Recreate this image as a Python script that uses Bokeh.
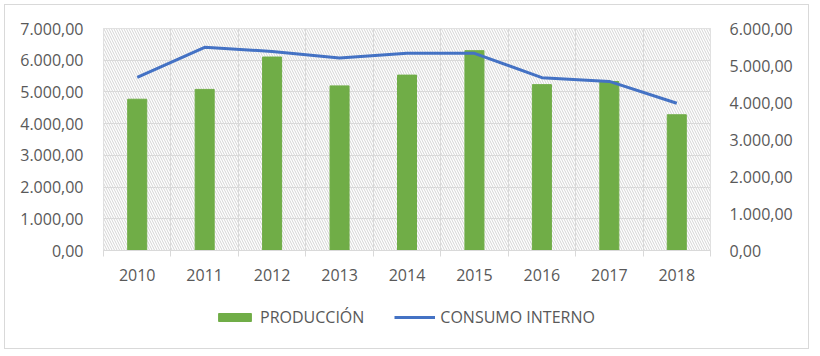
from bokeh.plotting import figure
from bokeh.layouts import column
from bokeh.models import (Range1d, LinearAxis, FixedTicker, BoxAnnotation,
                          Legend, LegendItem, ColumnDataSource)
from bokeh.embed import file_html
from bokeh.resources import INLINE

# ---- data ----
years = ["2010", "2011", "2012", "2013", "2014", "2015", "2016", "2017", "2018"]
produccion = [4770, 5080, 6100, 5190, 5530, 6300, 5230, 5330, 4280]
consumo_interno = [4680, 5490, 5380, 5200, 5330, 5330, 4670, 4570, 3980]
left_ticks = [0, 1000, 2000, 3000, 4000, 5000, 6000, 7000]
right_ticks = [0, 1000, 2000, 3000, 4000, 5000, 6000]
series_names = ["PRODUCCIÓN", "CONSUMO INTERNO"]

GREEN = "#70ad47"
BLUE = "#4472c4"
TXT = "#595959"
GRID = "#d9d9d9"
FONT = "Open Sans"
FS = "16px"


def es_fmt(v):
    s = f"{v:,.2f}"
    return s.replace(",", "X").replace(".", ",").replace("X", ".")


n = len(years)
xs = [i + 0.5 for i in range(n)]
src = ColumnDataSource(dict(x=xs, year=years, prod=produccion, cons=consumo_interno))

p = figure(width=803, height=295, output_backend="svg",
           toolbar_location=None,
           x_range=Range1d(0, n), y_range=Range1d(0, left_ticks[-1]),
           min_border_left=98, min_border_right=98, min_border_top=23,
           min_border_bottom=50)
p.extra_y_ranges = {"right": Range1d(0, right_ticks[-1])}
p.outline_line_color = GRID
p.background_fill_color = "white"

# hatched plot-area background
hatch = BoxAnnotation(fill_color="white", fill_alpha=1, line_color=None,
                      hatch_pattern="left_diagonal_line", hatch_color="#d4d4d4",
                      hatch_scale=5, hatch_weight=1, level="image")
p.add_layout(hatch)

bars = p.vbar(x="x", top="prod", width=0.282, source=src, color=GREEN)
line = p.line(x="x", y="cons", source=src, color=BLUE, line_width=3,
              y_range_name="right")

# x axis
xa = p.xaxis[0]
xa.ticker = FixedTicker(ticks=xs, minor_ticks=list(range(n + 1)))
xa.major_label_overrides = {x: y for x, y in zip(xs, years)}
xa.major_tick_out = 0
xa.major_tick_in = 0
xa.minor_tick_out = 6
xa.minor_tick_in = 0
xa.minor_tick_line_color = GRID
xa.axis_line_color = GRID
xa.major_label_text_font = FONT
xa.major_label_text_font_size = FS
xa.major_label_text_color = TXT
xa.major_label_standoff = 12

p.xgrid[0].ticker = FixedTicker(ticks=list(range(n + 1)))
p.xgrid[0].grid_line_color = GRID
p.ygrid[0].grid_line_color = GRID

# left y axis
ya = p.yaxis[0]
ya.ticker = FixedTicker(ticks=left_ticks)
ya.major_label_overrides = {t: es_fmt(t) for t in left_ticks}
ya.axis_line_color = None
ya.major_tick_line_color = None
ya.major_tick_out = 0
ya.major_tick_in = 0
ya.minor_tick_line_color = None
ya.major_label_standoff = 20
ya.major_label_text_font = FONT
ya.major_label_text_font_size = FS
ya.major_label_text_color = TXT

# right y axis
ra = LinearAxis(y_range_name="right", ticker=FixedTicker(ticks=right_ticks))
ra.major_label_overrides = {t: es_fmt(t) for t in right_ticks}
ra.axis_line_color = None
ra.major_tick_line_color = None
ra.major_tick_out = 0
ra.major_tick_in = 0
ra.minor_tick_line_color = None
ra.major_label_standoff = 19
ra.major_label_text_font = FONT
ra.major_label_text_font_size = FS
ra.major_label_text_color = TXT
p.add_layout(ra, "right")

# ---- legend strip (separate figure below the chart) ----
pl = figure(width=803, height=48, output_backend="svg", toolbar_location=None,
            x_axis_location=None, y_axis_location=None,
            min_border_left=98, min_border_right=98, min_border_top=0,
            min_border_bottom=0,
            x_range=Range1d(-30, -20), y_range=Range1d(-30000, -20000))
pl.outline_line_color = None
pl.xgrid.grid_line_color = None
pl.ygrid.grid_line_color = None
lbar = pl.vbar(x="x", top="prod", width=0.282, source=src, color=GREEN)
lline = pl.line(x="x", y="cons", source=src, color=BLUE, line_width=3)
lbar.visible = False
lline.visible = False

legend = Legend(items=[LegendItem(label=series_names[0], renderers=[lbar]),
                       LegendItem(label=series_names[1], renderers=[lline])],
                orientation="horizontal", location=(111, 20),
                border_line_color=None, background_fill_alpha=0,
                inactive_fill_alpha=0,
                glyph_width=41, glyph_height=10, label_standoff=5, spacing=30,
                padding=0, margin=0, label_text_font=FONT,
                label_text_font_size=FS, label_text_color=TXT)
pl.add_layout(legend)

layout = column(p, pl, spacing=0, margin=(5, 0, 0, 5),
                styles={"box-shadow": f"0 0 0 1px {GRID}"})

open("out.html", "w").write(file_html(layout, INLINE))
